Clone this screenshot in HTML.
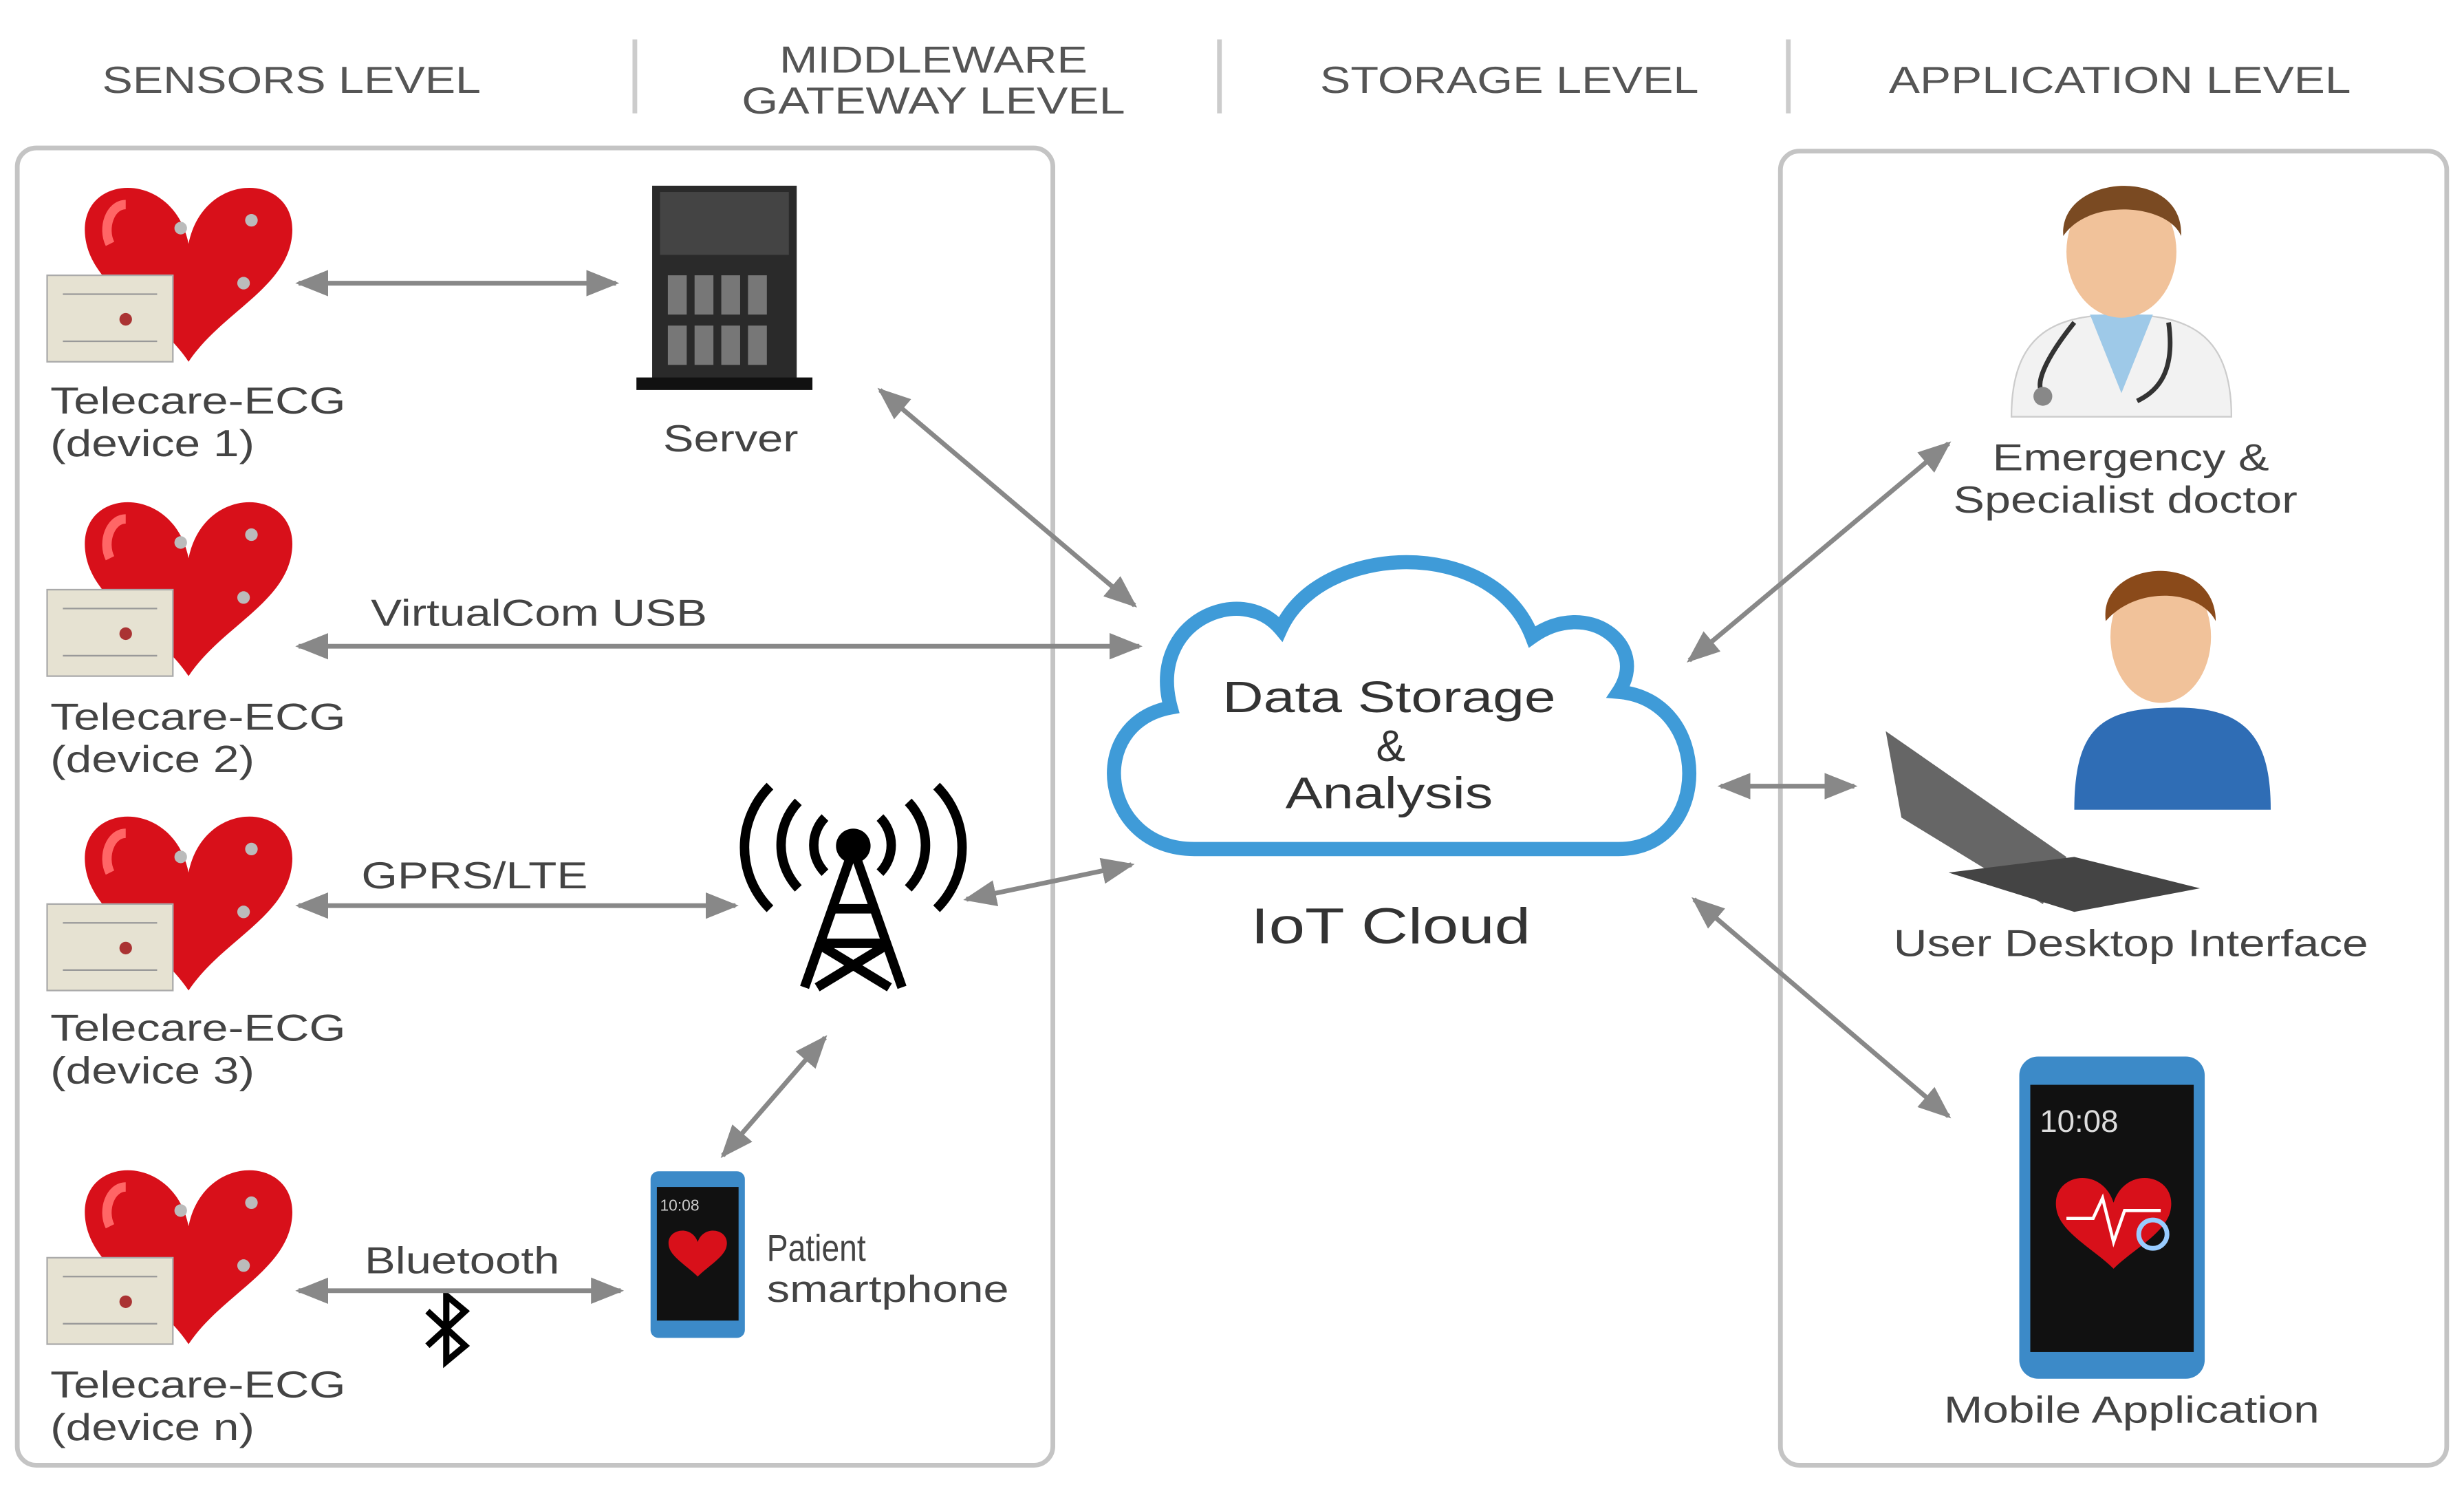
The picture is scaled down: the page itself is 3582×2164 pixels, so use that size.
<!DOCTYPE html>
<html><head><meta charset="utf-8"><style>
html,body{margin:0;padding:0;background:#fff;}
svg{display:block;}
text{font-family:"Liberation Sans",sans-serif;}
</style></head><body>
<svg width="3582" height="2164" viewBox="0 0 1568 947" xmlns="http://www.w3.org/2000/svg">
<defs>
<marker id="ah" viewBox="0 0 10 10" refX="9" refY="5" markerWidth="7" markerHeight="7" orient="auto-start-reverse">
<path d="M0,1 L10,5 L0,9 Z" fill="#888"/></marker>
<g id="heart">
<path d="M0,30 C-10,-20 -75,-15 -65,30 C-58,60 -20,75 0,105 C20,75 58,60 65,30 C75,-15 10,-20 0,30 Z" fill="#d8101a"/>
<path d="M-40,5 C-50,5 -55,20 -50,30" stroke="#f66" stroke-width="6" fill="none"/>
<rect x="-90" y="50" width="80" height="55" fill="#e6e2d2" stroke="#aaa"/>
<circle cx="-40" cy="78" r="4" fill="#a33"/>
<line x1="-80" y1="62" x2="-20" y2="62" stroke="#999"/>
<line x1="-80" y1="92" x2="-20" y2="92" stroke="#999"/>
<circle cx="-5" cy="20" r="4" fill="#bbb"/><circle cx="40" cy="15" r="4" fill="#bbb"/><circle cx="35" cy="55" r="4" fill="#bbb"/>
</g>
</defs>
<g font-size="24" fill="#555" lengthAdjust="spacingAndGlyphs">
<text x="65" y="59" textLength="241" lengthAdjust="spacingAndGlyphs">SENSORS LEVEL</text>
<text x="496" y="46" textLength="196" lengthAdjust="spacingAndGlyphs">MIDDLEWARE</text>
<text x="472" y="72" textLength="244" lengthAdjust="spacingAndGlyphs">GATEWAY LEVEL</text>
<text x="840" y="59" textLength="241" lengthAdjust="spacingAndGlyphs">STORAGE LEVEL</text>
<text x="1202" y="59" textLength="294" lengthAdjust="spacingAndGlyphs">APPLICATION LEVEL</text>
</g>
<g stroke="#ccc" stroke-width="3">
<line x1="404" y1="25" x2="404" y2="72"/><line x1="776" y1="25" x2="776" y2="72"/><line x1="1138" y1="25" x2="1138" y2="72"/>
</g>
<rect x="11" y="94" width="659" height="838" rx="12" fill="none" stroke="#c4c4c4" stroke-width="3"/>
<rect x="1133" y="96" width="424" height="836" rx="12" fill="none" stroke="#c4c4c4" stroke-width="3"/>

<use href="#heart" x="120" y="125"/>
<use href="#heart" x="120" y="325"/>
<use href="#heart" x="120" y="525"/>
<use href="#heart" x="120" y="750"/>
<g font-size="24" fill="#444">
<text x="32" y="263" textLength="188" lengthAdjust="spacingAndGlyphs">Telecare-ECG</text><text x="32" y="290" textLength="130" lengthAdjust="spacingAndGlyphs">(device 1)</text>
<text x="32" y="464" textLength="188" lengthAdjust="spacingAndGlyphs">Telecare-ECG</text><text x="32" y="491" textLength="130" lengthAdjust="spacingAndGlyphs">(device 2)</text>
<text x="32" y="662" textLength="188" lengthAdjust="spacingAndGlyphs">Telecare-ECG</text><text x="32" y="689" textLength="130" lengthAdjust="spacingAndGlyphs">(device 3)</text>
<text x="32" y="889" textLength="188" lengthAdjust="spacingAndGlyphs">Telecare-ECG</text><text x="32" y="916" textLength="130" lengthAdjust="spacingAndGlyphs">(device n)</text>
<text x="236" y="398" textLength="214" lengthAdjust="spacingAndGlyphs">VirtualCom USB</text>
<text x="230" y="565" textLength="144" lengthAdjust="spacingAndGlyphs">GPRS/LTE</text>
<text x="232" y="810" textLength="124" lengthAdjust="spacingAndGlyphs">Bluetooth</text>
<text x="488" y="802" textLength="63" lengthAdjust="spacingAndGlyphs">Patient</text><text x="488" y="828" textLength="154" lengthAdjust="spacingAndGlyphs">smartphone</text>
<text x="422" y="287" textLength="86" lengthAdjust="spacingAndGlyphs">Server</text>
<text x="1268" y="299" textLength="176" lengthAdjust="spacingAndGlyphs">Emergency &amp;</text>
<text x="1243" y="326" textLength="219" lengthAdjust="spacingAndGlyphs">Specialist doctor</text>
<text x="1205" y="608" textLength="302" lengthAdjust="spacingAndGlyphs">User Desktop Interface</text>
<text x="1237" y="905" textLength="239" lengthAdjust="spacingAndGlyphs">Mobile Application</text>
</g>

<!-- server -->
<rect x="415" y="118" width="92" height="125" fill="#2a2a2a"/>
<rect x="420" y="122" width="82" height="40" fill="#444"/>
<g fill="#777"><rect x="425" y="175" width="12" height="25"/><rect x="442" y="175" width="12" height="25"/><rect x="459" y="175" width="12" height="25"/><rect x="476" y="175" width="12" height="25"/>
<rect x="425" y="207" width="12" height="25"/><rect x="442" y="207" width="12" height="25"/><rect x="459" y="207" width="12" height="25"/><rect x="476" y="207" width="12" height="25"/></g>
<rect x="405" y="240" width="112" height="8" fill="#111"/>

<!-- tower -->
<g stroke="#000" stroke-width="6" fill="none">
<path d="M512,628 L543,540 L574,628 M522,600 L565,600 M528,578 L558,578 M520,600 L566,628 M566,600 L520,628"/>
<path d="M525,520 A25,25 0 0 0 525,555 M560,520 A25,25 0 0 1 560,555"/>
<path d="M508,510 A40,40 0 0 0 508,565 M578,510 A40,40 0 0 1 578,565"/>
<path d="M490,500 A55,55 0 0 0 490,578 M596,500 A55,55 0 0 1 596,578"/>
</g>
<circle cx="543" cy="538" r="11" fill="#000"/>

<!-- patient phone -->
<rect x="414" y="745" width="60" height="106" rx="5" fill="#3c8ac8"/>
<rect x="418" y="755" width="52" height="85" fill="#111"/>
<path d="M444,790 c-4,-12 -22,-8 -18,4 c2,6 12,12 18,18 c6,-6 16,-12 18,-18 c4,-12 -14,-16 -18,-4z" fill="#d8101a"/>
<text x="420" y="770" font-size="10" fill="#ccc">10:08</text>

<!-- bluetooth -->
<path d="M272,834 L296,856 L284,866 L284,824 L296,834 L272,856" stroke="#000" stroke-width="4" fill="none"/>

<!-- cloud -->
<path d="M760,540 C700,540 690,460 745,450 C730,395 790,370 815,400 C840,345 950,340 975,405 C1010,380 1050,410 1030,440 C1090,445 1090,540 1030,540 Z" fill="#fff" stroke="#3f9bd8" stroke-width="9"/>
<g fill="#333">
<text x="778" y="453" font-size="28" textLength="212" lengthAdjust="spacingAndGlyphs">Data Storage</text>
<text x="885" y="484" font-size="28" text-anchor="middle">&amp;</text>
<text x="818" y="514" font-size="28" textLength="132" lengthAdjust="spacingAndGlyphs">Analysis</text>
<text x="796" y="600" font-size="32" textLength="178" lengthAdjust="spacingAndGlyphs">IoT Cloud</text>
</g>

<!-- arrows -->
<g stroke="#888" stroke-width="3" marker-start="url(#ah)" marker-end="url(#ah)">
<line x1="190" y1="180" x2="392" y2="180"/>
<line x1="560" y1="248" x2="722" y2="385"/>
<line x1="190" y1="411" x2="725" y2="411"/>
<line x1="190" y1="576" x2="468" y2="576"/>
<line x1="615" y1="572" x2="720" y2="550"/>
<line x1="460" y1="735" x2="525" y2="660"/>
<line x1="190" y1="821" x2="395" y2="821"/>
<line x1="1075" y1="420" x2="1240" y2="282"/>
<line x1="1095" y1="500" x2="1180" y2="500"/>
<line x1="1078" y1="572" x2="1240" y2="710"/>
</g>

<!-- doctor -->
<path d="M1280,265 C1280,210 1310,200 1350,200 C1390,200 1420,210 1420,265 Z" fill="#f2f2f2" stroke="#ccc"/>
<path d="M1330,200 L1350,250 L1370,200 Z" fill="#9ec9e8"/>
<ellipse cx="1350" cy="160" rx="35" ry="42" fill="#f1c29a"/>
<path d="M1313,150 C1310,110 1390,105 1388,150 C1380,130 1330,125 1313,150Z" fill="#7a4a22"/>
<path d="M1320,205 C1300,230 1295,245 1300,250 M1380,205 C1385,240 1370,250 1360,255" stroke="#333" stroke-width="3" fill="none"/>
<circle cx="1300" cy="252" r="6" fill="#888"/>

<!-- desktop user -->
<path d="M1320,515 C1320,460 1340,450 1385,450 C1430,450 1445,470 1445,515 Z" fill="#2f6db5"/>
<ellipse cx="1375" cy="405" rx="32" ry="42" fill="#f1c29a"/>
<path d="M1340,395 C1335,355 1410,350 1410,395 C1400,375 1360,372 1340,395Z" fill="#8a4a1a"/>
<path d="M1200,465 L1315,545 L1300,575 L1210,520 Z" fill="#666"/>
<path d="M1240,555 L1320,545 L1400,565 L1320,580 Z" fill="#444"/>

<!-- mobile app phone -->
<rect x="1285" y="672" width="118" height="205" rx="12" fill="#3c8ac8"/>
<rect x="1292" y="690" width="104" height="170" fill="#111"/>
<text x="1298" y="720" font-size="20" fill="#ddd">10:08</text>
<path d="M1345,765 c-8,-25 -42,-18 -36,6 c4,14 24,24 36,36 c12,-12 32,-22 36,-36 c6,-24 -28,-31 -36,-6z" fill="#d8101a"/>
<polyline points="1315,775 1332,775 1338,762 1345,790 1352,770 1375,770" stroke="#fff" stroke-width="2" fill="none"/>
<circle cx="1370" cy="785" r="9" fill="none" stroke="#9cf" stroke-width="3"/>
</svg>
</body></html>
